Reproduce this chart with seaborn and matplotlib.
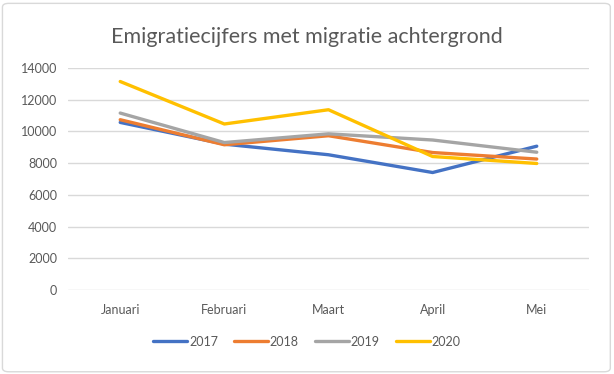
import pandas as pd
import seaborn as sns
import matplotlib.pyplot as plt
from matplotlib.patches import FancyBboxPatch

months = ["Januari", "Februari", "Maart", "April", "Mei"]
years = ["2017", "2018", "2019", "2020"]
v2017 = [10570, 9200, 8530, 7410, 9070]
v2018 = [10740, 9160, 9730, 8670, 8260]
v2019 = [11160, 9300, 9850, 9460, 8690]
v2020 = [13150, 10470, 11370, 8420, 7980]
colors = ["#4472C4", "#ED7D31", "#A5A5A5", "#FFC000"]

rows = []
for year, vals in zip(years, [v2017, v2018, v2019, v2020]):
    for m, v in zip(months, vals):
        rows.append({"Maand": m, "Jaar": year, "Aantal": v})
df = pd.DataFrame(rows)

sns.set_style("white")
plt.rcParams["font.family"] = ["Lato", "DejaVu Sans"]

fig = plt.figure(figsize=(6.14, 3.74), dpi=100)
ax = fig.add_axes([0.111, 0.2246, 0.848, 0.5935])

sns.lineplot(data=df, x="Maand", y="Aantal", hue="Jaar", palette=colors,
             linewidth=2.4, ax=ax, sort=False)

ax.set_xlim(-0.5, 4.5)
ax.set_ylim(0, 14000)
ax.set_yticks(range(0, 14001, 2000))
ax.grid(axis="y", color="#D9D9D9", linewidth=1)
ax.set_axisbelow(True)
for s in ax.spines.values():
    s.set_visible(False)
ax.tick_params(axis="both", length=0, labelsize=9, labelcolor="#595959")
ax.tick_params(axis="x", pad=10)
ax.tick_params(axis="y", pad=8)
ax.set_xlabel("")
ax.set_ylabel("")

fig.text(0.5, 0.9, "Emigratiecijfers met migratie achtergrond",
         ha="center", va="center", fontsize=15.5, color="#595959")

ax.legend(loc="center", bbox_to_anchor=(0.5, 0.086), bbox_transform=fig.transFigure,
          ncol=4, frameon=False, fontsize=9, handlelength=2.7, handletextpad=0.15,
          columnspacing=1.3, labelcolor="#595959")

border = FancyBboxPatch((0.004, 0.006), 0.99, 0.985, boxstyle="round,pad=0,rounding_size=0.01",
                        transform=fig.transFigure, facecolor="none", edgecolor="#D9D9D9",
                        linewidth=1)
fig.patches.append(border)

fig.savefig("out.png", dpi=100)
